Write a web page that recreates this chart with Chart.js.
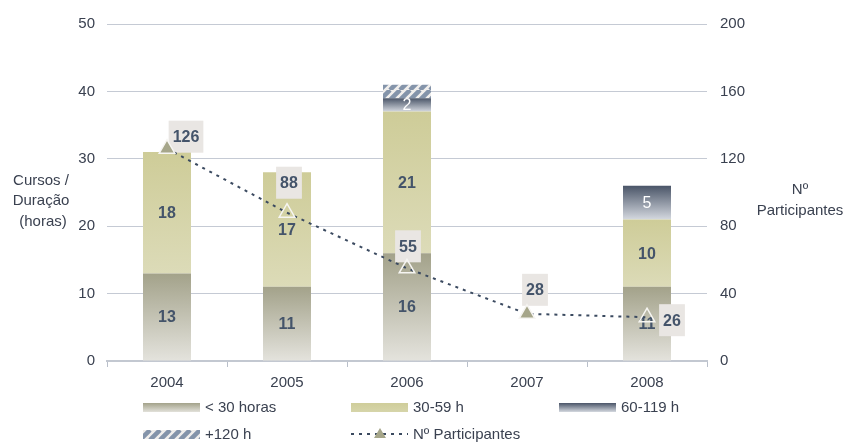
<!DOCTYPE html>
<html>
<head>
<meta charset="utf-8">
<script src="https://cdn.jsdelivr.net/npm/chart.js@4.4.0/dist/chart.umd.min.js"></script>
<style>
  html, body { margin: 0; padding: 0; background: #fff; }
  #wrap { width: 846px; height: 443px; }
</style>
</head>
<body>
<div id="wrap"><canvas id="chart_cursos"></canvas></div>
<script>
// data
const years = ['2004', '2005', '2006', '2007', '2008'];
const under30 = [13, 11, 16, 0, 11];
const h30to59 = [18, 17, 21, 0, 10];
const h60to119 = [0, 0, 2, 0, 5];
const over120 = [0, 0, 2, 0, 0];
const participants = [126, 88, 55, 28, 26];
const leftTicks = [0, 10, 20, 30, 40, 50];
const rightTicks = [0, 40, 80, 120, 160, 200];

const FONT = "'Liberation Sans', Arial, sans-serif";
const TXT = '#3a4150';
const LBL = '#44546a';

// striped fill for +120 h
function makeStripes() {
    const c = document.createElement('canvas');
    c.width = 10; c.height = 10;
    const g = c.getContext('2d');
    g.fillStyle = '#f0eeec';
    g.fillRect(0, 0, 10, 10);
    g.strokeStyle = '#8494aa';
    g.lineWidth = 4.5;
    g.beginPath();
    for (let k = -10; k <= 20; k += 10) {
        g.moveTo(k, 10);
        g.lineTo(k + 10, 0);
    }
    g.stroke();
    return g.createPattern(c, 'repeat');
}
const stripes = makeStripes();

const stackSeries = [under30, h30to59, h60to119, over120];

function segGradient(ctx, dsIndex, top, bottom) {
    const chart = ctx.chart;
    const y = chart.scales.y;
    if (!chart.chartArea || !y || ctx.dataIndex === undefined) return top;
    const i = ctx.dataIndex;
    let base = 0;
    for (let k = 0; k < dsIndex; k++) base += stackSeries[k][i];
    const end = base + stackSeries[dsIndex][i];
    const y0 = y.getPixelForValue(end);
    const y1 = y.getPixelForValue(base);
    if (!isFinite(y0) || !isFinite(y1) || y0 === y1) return top;
    const gr = chart.ctx.createLinearGradient(0, y0, 0, y1);
    gr.addColorStop(0, top);
    gr.addColorStop(1, bottom);
    return gr;
}

// bar value labels + participant boxes, drawn before the line
const labelPlugin = {
    id: 'labels',
    beforeDatasetDraw(chart, args) {
        if (args.meta.type !== 'line') return;
        const ctx = chart.ctx;
        ctx.save();
        ctx.textAlign = 'center';
        ctx.textBaseline = 'middle';
        [0, 1, 2].forEach(d => {
            const meta = chart.getDatasetMeta(d);
            meta.data.forEach((bar, i) => {
                const v = chart.data.datasets[d].data[i];
                if (!v) return;
                const cy = (bar.y + bar.base) / 2;
                if (d === 2) {
                    ctx.font = '16px ' + FONT;
                    ctx.fillStyle = '#ffffff';
                } else {
                    ctx.font = 'bold 16px ' + FONT;
                    ctx.fillStyle = LBL;
                }
                ctx.fillText(String(v), bar.x, cy + 1);
            });
        });
        const offs = [[19, -12], [2, -30], [1, -22], [8, -24], [25, 3]];
        ctx.font = 'bold 16px ' + FONT;
        args.meta.data.forEach((pt, i) => {
            const txt = String(chart.data.datasets[args.index].data[i]);
            const w = ctx.measureText(txt).width + 8;
            const h = 32;
            const cx = pt.x + offs[i][0];
            const cy = pt.y + offs[i][1];
            ctx.fillStyle = '#e9e6e3';
            ctx.fillRect(cx - w / 2, cy - h / 2, w, h);
            ctx.fillStyle = LBL;
            ctx.fillText(txt, cx, cy + 1);
        });
        ctx.restore();
    }
};

// axis titles and the two-row legend
const decorPlugin = {
    id: 'decor',
    afterDraw(chart) {
        const ctx = chart.ctx;
        ctx.save();
        ctx.font = '15px ' + FONT;
        ctx.fillStyle = TXT;
        ctx.textAlign = 'center';
        ctx.textBaseline = 'middle';
        ctx.fillText('Cursos /', 41, 181);
        ctx.fillText('Duração', 41, 201);
        ctx.fillText('(horas)', 43, 222);
        ctx.fillText('Nº', 800, 190);
        ctx.fillText('Participantes', 800, 211);

        const items = [
            { x: 143, y: 407, text: '< 30 horas', kind: 'u30' },
            { x: 351, y: 407, text: '30-59 h', kind: 'h30' },
            { x: 559, y: 407, text: '60-119 h', kind: 'h60' },
            { x: 143, y: 434, text: '+120 h', kind: 'o120' },
            { x: 351, y: 434, text: 'Nº Participantes', kind: 'line' }
        ];
        ctx.textAlign = 'left';
        items.forEach(it => {
            const sx = it.x, sy = it.y - 4, sw = 57, sh = 9;
            if (it.kind === 'line') {
                ctx.strokeStyle = '#3b4a60';
                ctx.lineWidth = 2;
                ctx.setLineDash([3, 5]);
                ctx.beginPath();
                ctx.moveTo(sx, it.y);
                ctx.lineTo(sx + sw, it.y);
                ctx.stroke();
                ctx.setLineDash([]);
                ctx.fillStyle = '#a6a68a';
                ctx.beginPath();
                ctx.moveTo(sx + 29, it.y - 6);
                ctx.lineTo(sx + 35, it.y + 4);
                ctx.lineTo(sx + 23, it.y + 4);
                ctx.closePath();
                ctx.fill();
            } else {
                let fill;
                if (it.kind === 'o120') {
                    fill = stripes;
                } else {
                    const g = ctx.createLinearGradient(0, sy, 0, sy + sh);
                    if (it.kind === 'u30') { g.addColorStop(0, '#a3a28a'); g.addColorStop(1, '#e2e1da'); }
                    if (it.kind === 'h30') { g.addColorStop(0, '#cfcd9a'); g.addColorStop(1, '#d6d5aa'); }
                    if (it.kind === 'h60') { g.addColorStop(0, '#4a5568'); g.addColorStop(1, '#d4d8df'); }
                    fill = g;
                }
                ctx.fillStyle = fill;
                ctx.fillRect(sx, sy, sw, sh);
            }
            ctx.fillStyle = TXT;
            ctx.fillText(it.text, sx + 62, it.y + 1);
        });
        ctx.restore();
    }
};

const chartConfig = {
    type: 'bar',
    data: {
        labels: years,
        datasets: [
            {
                label: '< 30 horas',
                data: under30,
                backgroundColor: c => segGradient(c, 0, '#a3a28a', '#e4e3dd'),
                order: 1
            },
            {
                label: '30-59 h',
                data: h30to59,
                backgroundColor: c => segGradient(c, 1, '#cecc98', '#dcdbb8'),
                order: 1
            },
            {
                label: '60-119 h',
                data: h60to119,
                backgroundColor: c => segGradient(c, 2, '#4a5568', '#d4d8df'),
                order: 1
            },
            {
                label: '+120 h',
                data: over120,
                backgroundColor: stripes,
                order: 1
            },
            {
                type: 'line',
                label: 'Nº Participantes',
                data: participants,
                yAxisID: 'y1',
                borderColor: '#3b4a60',
                borderWidth: 2,
                borderDash: [3, 5],
                pointStyle: 'triangle',
                pointRadius: 9,
                pointBorderWidth: 1.5,
                pointBackgroundColor: ['#a6a68a', 'rgba(0,0,0,0)', 'rgba(0,0,0,0)', '#a6a68a', 'rgba(0,0,0,0)'],
                pointBorderColor: '#f6f5f2',
                tension: 0,
                order: 0
            }
        ]
    },
    options: {
        responsive: true,
        maintainAspectRatio: false,
        animation: false,
        layout: { padding: { top: 24, left: 0, right: 0, bottom: 0 } },
        datasets: { bar: { barPercentage: 0.4, categoryPercentage: 1.0 } },
        plugins: {
            legend: { display: false },
            tooltip: { enabled: false }
        },
        scales: {
            x: {
                stacked: true,
                grid: { offset: true, drawOnChartArea: false, tickLength: 6, color: '#b9bfca', lineWidth: 1 },
                border: { color: '#c3c8d1', width: 2 },
                ticks: { color: TXT, font: { family: FONT, size: 15 }, padding: 7 },
                afterFit: s => { s.height = 82; }
            },
            y: {
                stacked: true,
                min: 0,
                max: 50,
                afterBuildTicks: s => { s.ticks = leftTicks.map(v => ({ value: v })); },
                grid: { color: '#c5cad4', drawTicks: false },
                border: { display: false },
                ticks: { color: TXT, font: { family: FONT, size: 15 }, padding: 12 },
                afterFit: s => { s.width = 107; }
            },
            y1: {
                position: 'right',
                min: 0,
                max: 200,
                afterBuildTicks: s => { s.ticks = rightTicks.map(v => ({ value: v })); },
                grid: { drawOnChartArea: false, drawTicks: false },
                border: { display: false },
                ticks: { color: TXT, font: { family: FONT, size: 15 }, padding: 13 },
                afterFit: s => { s.width = 139; }
            }
        }
    },
    plugins: [labelPlugin, decorPlugin]
};

new Chart(document.getElementById('chart_cursos'), chartConfig);
</script>
</body>
</html>
